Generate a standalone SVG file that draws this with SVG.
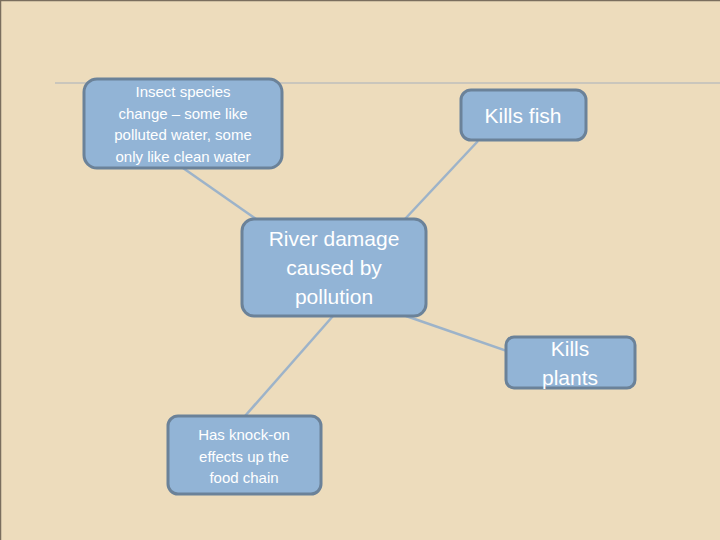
<svg xmlns="http://www.w3.org/2000/svg" width="720" height="540" viewBox="0 0 720 540">
<style>
.n{fill:#92b4d6;stroke:#6b8299;stroke-width:3}
.t{fill:#fff;font-family:"Liberation Sans",Arial,sans-serif;text-anchor:middle}
.c{stroke:#9db3c9;stroke-width:2.5;fill:none}
</style>
<rect width="720" height="540" fill="#eddcbc"/>
<path d="M0.5 540V0.5H720" stroke="#7a6e5e" fill="none" stroke-width="1.5"/>
<line x1="55" y1="83" x2="720" y2="83" stroke="#a8b0bc" stroke-width="1.2"/>
<g id="connectors">
<line class="c" x1="183" y1="168" x2="256" y2="219"/>
<line class="c" x1="478" y1="141" x2="405" y2="219"/>
<line class="c" x1="406" y1="316" x2="510" y2="352"/>
<line class="c" x1="333" y1="316" x2="245" y2="416"/>
</g>
<g id="insect"><rect class="n" x="84" y="79" width="198" height="89" rx="13"/>
<text class="t" font-size="15"><tspan x="183" y="97">Insect species</tspan><tspan x="183" y="119">change – some like</tspan><tspan x="183" y="140">polluted water, some</tspan><tspan x="183" y="162">only like clean water</tspan></text></g>
<g id="fish"><rect class="n" x="461" y="90" width="125" height="50" rx="10"/>
<text class="t" font-size="21" x="523" y="123">Kills fish</text></g>
<g id="river"><rect class="n" x="242" y="219" width="184" height="97" rx="12"/>
<text class="t" font-size="21"><tspan x="334" y="246">River damage</tspan><tspan x="334" y="275">caused by</tspan><tspan x="334" y="304">pollution</tspan></text></g>
<g id="plants"><rect class="n" x="506" y="337" width="129" height="51" rx="8"/>
<text class="t" font-size="21"><tspan x="570" y="356">Kills</tspan><tspan x="570" y="385">plants</tspan></text></g>
<g id="knock"><rect class="n" x="168" y="416" width="153" height="78" rx="10"/>
<text class="t" font-size="15"><tspan x="244" y="440">Has knock-on</tspan><tspan x="244" y="462">effects up the</tspan><tspan x="244" y="483">food chain</tspan></text></g>
</svg>
